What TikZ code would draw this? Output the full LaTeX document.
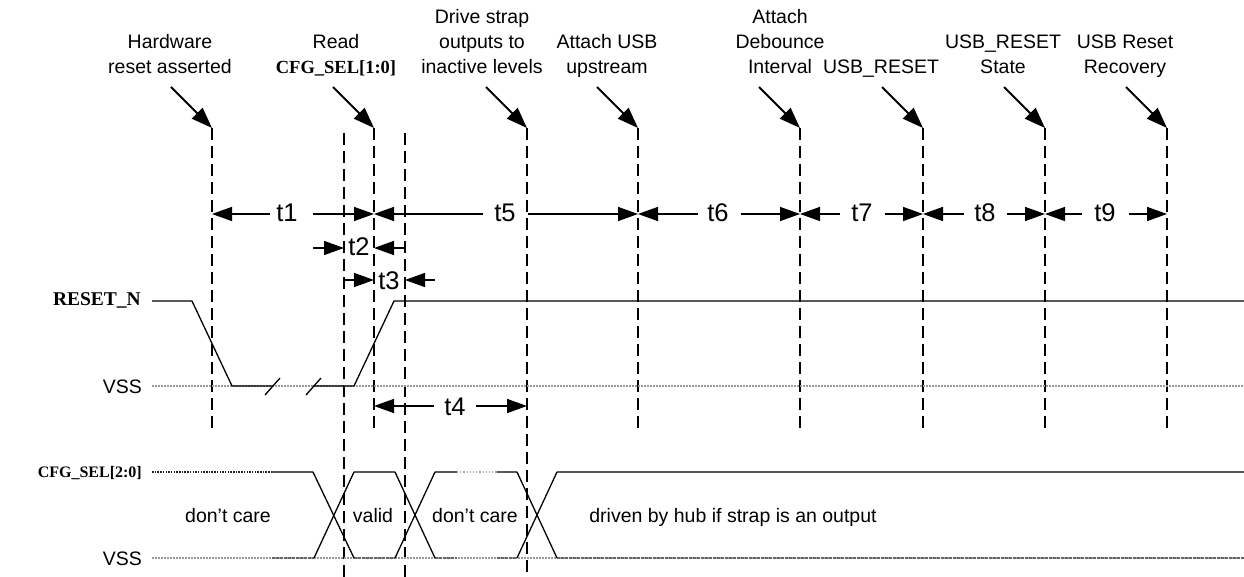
\documentclass[tikz,border=0pt]{standalone}
\usepackage{fontspec}
\setmainfont{Liberation Sans}
\newfontfamily\tnr{Liberation Serif}
\usetikzlibrary{arrows.meta}
\begin{document}
\begin{tikzpicture}[x=1pt,y=-1pt,
  lbl/.style={font=\fontsize{19.5}{25}\selectfont, align=center, anchor=south, inner sep=0pt, text depth=0pt},
  tl/.style={font=\fontsize{25.5}{26}\selectfont, inner sep=0pt, anchor=base},
  txt/.style={font=\fontsize{19.5}{22}\selectfont, inner sep=0pt, anchor=base},
  sig/.style={font=\tnr\bfseries\fontsize{19.5}{22}\selectfont, inner sep=0pt, anchor=base east},
  guide/.style={line width=2pt, dash pattern=on 12pt off 6pt},
  pointer/.style={line width=1.8pt, -{Triangle[length=21pt,width=15pt]}},
  dim/.style={line width=1.5pt, -{Triangle[length=20pt,width=14pt]}},
  wave/.style={line width=1.3pt, line join=round},
  vss/.style={gray!80, line width=1.6pt, dash pattern=on 1.5pt off 1.5pt},
  lowseg/.style={black!60, line width=1.6pt, dash pattern=on 3pt off 1pt},
  dotblk/.style={black!85, line width=1.5pt, dash pattern=on 1.5pt off 1.2pt},
  dotgray/.style={gray!70, line width=1.2pt, dash pattern=on 1.2pt off 2pt}
]
\useasboundingbox (0,0) rectangle (1244,577);

% guide lines
\foreach \n/\x/\ya/\yb in {g1/212/128/430, g2/344/133/577, g3/374/128/430, g4/405/133/577,
  g5/527/128/577, g6/638/128/430, g7/800/128/430, g8/923/128/430, g9/1045/128/430, g10/1167/128/430}{
  \coordinate (\n) at (\x,\ya);
  \coordinate (\n e) at (\x,\yb);
  \draw[guide] (\n) -- (\n e);
}

% top labels
\node[lbl] (L1) at (170,74) {Hardware\\reset asserted};
\node[lbl] (L3) at (336,74) {Read\\{\tnr\bfseries\fontsize{18.5}{25}\selectfont CFG\_SEL[1:0]}};
\node[lbl] (L5) at (482,74) {Drive strap\\outputs to\\inactive levels};
\node[lbl] (L6) at (607,74) {Attach USB\\upstream};
\node[lbl] (L7) at (780,74) {Attach\\Debounce\\Interval};
\node[lbl] (L8) at (881,74) {USB\_RESET};
\node[lbl] (L9) at (1003,74) {USB\_RESET\\State};
\node[lbl] (L10) at (1125,74) {USB Reset\\Recovery};

% pointers
\foreach \n/\x in {1/171, 3/333, 5/486, 6/597, 7/759, 8/882, 9/1004, 10/1126}{
  \coordinate (p\n) at (\x,87);
  \draw[pointer] (p\n) -- (g\n);
}

% row A
\node[tl] (t1) at (287,222) {t1};
\coordinate (a1) at (270,214); \coordinate (a2) at (313,214);
\draw[dim] (a1) -- (g1 |- a1); \draw[dim] (a2) -- (g3 |- a2);
\node[tl] (t5) at (505,222) {t5};
\coordinate (a3) at (483,214); \coordinate (a4) at (528,214);
\draw[dim] (a3) -- (g3 |- a3); \draw[dim] (a4) -- (g6 |- a4);
\node[tl] (t6) at (718,222) {t6};
\coordinate (a5) at (698,214); \coordinate (a6) at (741,214);
\draw[dim] (a5) -- (g6 |- a5); \draw[dim] (a6) -- (g7 |- a6);
\node[tl] (t7) at (862,222) {t7};
\coordinate (a7) at (840,214); \coordinate (a8) at (885,214);
\draw[dim] (a7) -- (g7 |- a7); \draw[dim] (a8) -- (g8 |- a8);
\node[tl] (t8) at (985,222) {t8};
\coordinate (a9) at (964,214); \coordinate (a10) at (1007,214);
\draw[dim] (a9) -- (g8 |- a9); \draw[dim] (a10) -- (g9 |- a10);
\node[tl] (t9) at (1105,222) {t9};
\coordinate (a11) at (1082,214); \coordinate (a12) at (1129,214);
\draw[dim] (a11) -- (g9 |- a11); \draw[dim] (a12) -- (g10 |- a12);

% row B
\node[tl] (t2) at (359,256) {t2};
\coordinate (b1) at (313,248); \coordinate (b2) at (405,248);
\draw[dim] (b1) -- (g2 |- b1); \draw[dim] (b2) -- (g3 |- b2);
% row C
\node[tl] (t3) at (389,289) {t3};
\coordinate (c1) at (344,280); \coordinate (c2) at (435,280);
\draw[dim] (c1) -- (g3 |- c1); \draw[dim] (c2) -- (g4 |- c2);
% row D
\node[tl] (t4) at (455,415) {t4};
\coordinate (d1) at (434,406); \coordinate (d2) at (476,406);
\draw[dim] (d1) -- (g3 |- d1); \draw[dim] (d2) -- (g5 |- d2);

% RESET_N
\node[sig] (rn) at (141,305) {RESET\_N};
\node[txt, anchor=base east] (vss1) at (142,393) {VSS};
\draw[vss] (152,386) -- (1244,386);
\draw[wave] (152,301) -- (192,301) -- (232,386) -- (273,386);
\draw[wave] (265,395) -- (280,378);
\draw[wave] (306,395) -- (321,378);
\draw[wave] (313,386) -- (354,386) -- (394,301) -- (1244,301);

% CFG_SEL[2:0]
\node[sig, font=\tnr\bfseries\fontsize{16}{18}\selectfont] (cfg) at (142,477) {CFG\_SEL[2:0]};
\node[txt, anchor=base east] (vss2) at (142,565) {VSS};
\draw[vss] (152,558) -- (1244,558);
\draw[lowseg] (272,558) -- (314,558);
\draw[lowseg] (354,558) -- (395,558);
\draw[lowseg] (435,558) -- (457,558);
\draw[lowseg] (497,558) -- (517,558);
\draw[lowseg] (557,558) -- (1244,558);
\draw[dotblk] (152,472) -- (272,472);
\draw[wave] (272,472) -- (313,472) -- (354,558);
\draw[wave] (314,558) -- (354,472) -- (395,472) -- (435,558);
\draw[wave] (395,558) -- (435,472) -- (457,472);
\draw[dotgray] (457,472) -- (497,472);
\draw[wave] (497,472) -- (517,472) -- (557,558);
\draw[wave] (517,558) -- (557,472) -- (1244,472);

\node[txt] (dc1) at (228,522) {don’t care};
\node[txt] (val) at (373,522) {valid};
\node[txt] (dc2) at (475,522) {don’t care};
\node[txt] (drv) at (733,522) {driven by hub if strap is an output};
\end{tikzpicture}
\end{document}
